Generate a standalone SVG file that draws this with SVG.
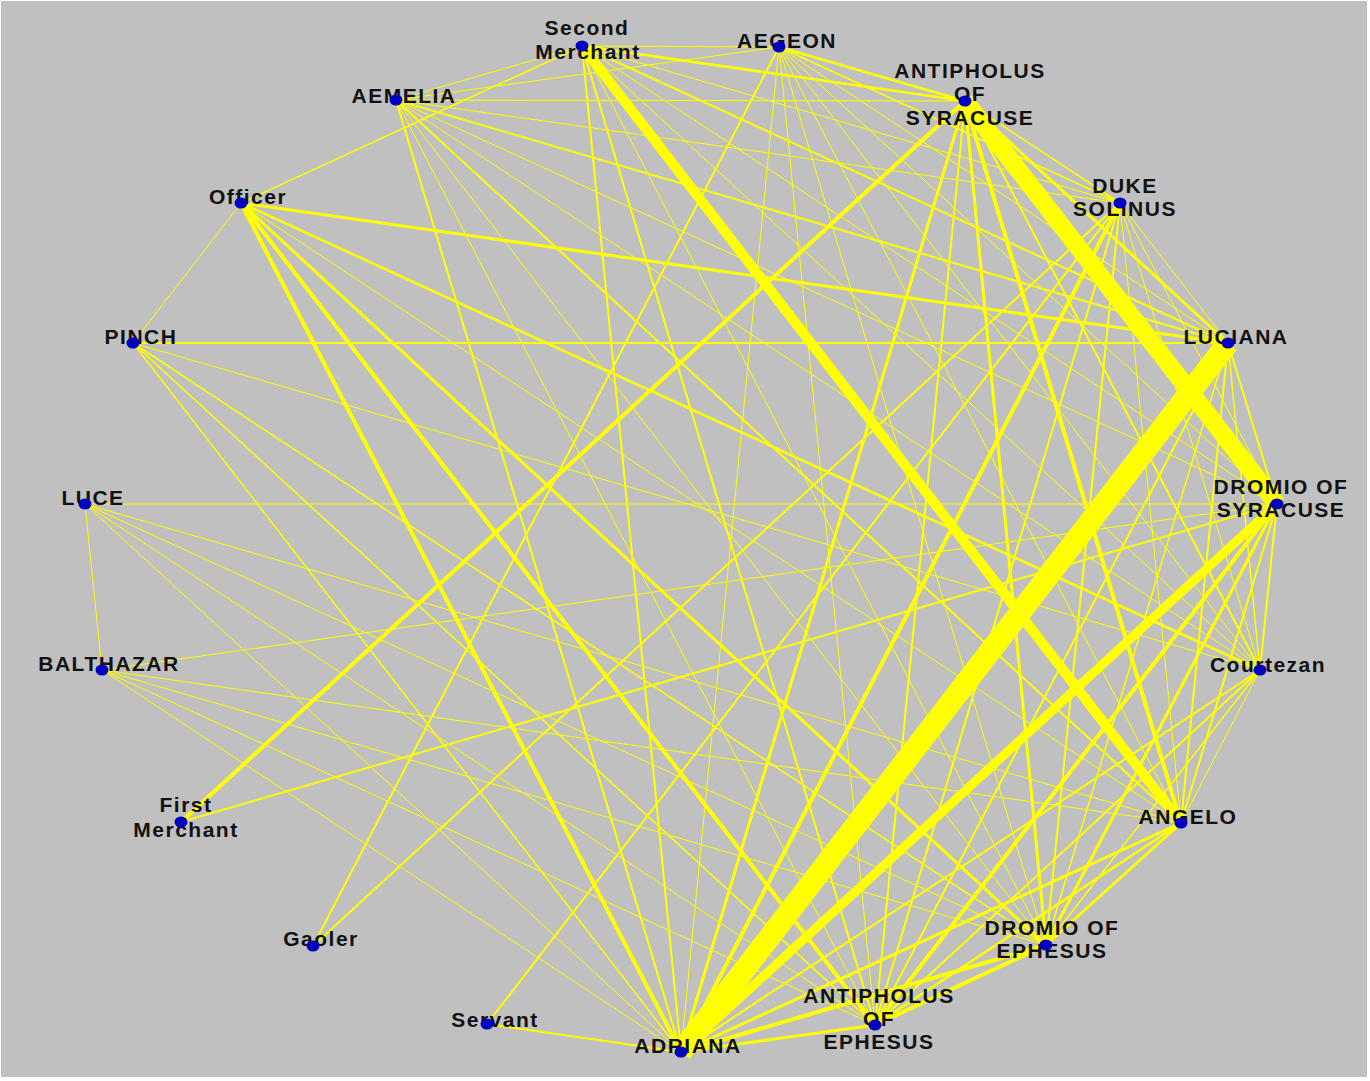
<svg xmlns="http://www.w3.org/2000/svg" width="1370" height="1081" viewBox="0 0 1370 1081">
<style>
.e{stroke:#ffff00;stroke-linecap:butt;fill:none}
.w1{stroke-width:1}
.w15{stroke-width:1.5}
.w2{stroke-width:2}
.w25{stroke-width:2.5}
.w3{stroke-width:3}
.w4{stroke-width:4}
.w5{stroke-width:5}
.w9{stroke-width:9}
.w10{stroke-width:10}
.w18{stroke-width:18}
.w22{stroke-width:22}
text{font-family:"Liberation Sans",Arial,sans-serif;font-weight:bold;font-size:21px;fill:#111;text-anchor:middle;letter-spacing:1.5px}
.dot{fill:#0000c0}
</style>
<rect x="0" y="0" width="1370" height="1081" fill="#ffffff"/>
<rect x="1" y="1" width="1366" height="1076" fill="#c0c0c0"/>
<g id="connectors" class="e">
<!-- Second Merchant (582,46) -->
<line class="w1" x1="582" y1="46" x2="779" y2="47"/>
<line class="w1" x1="582" y1="46" x2="396" y2="100"/>
<line class="w15" x1="582" y1="46" x2="241" y2="203"/>
<line class="w25" x1="582" y1="46" x2="965" y2="101"/>
<line class="w2" x1="582" y1="46" x2="1228" y2="343"/>
<line class="w10" x1="582" y1="46" x2="1181" y2="823"/>
<line class="w2" x1="582" y1="46" x2="681" y2="1052"/>
<line class="w2" x1="582" y1="46" x2="875" y2="1025"/>
<line class="w1" x1="582" y1="46" x2="1046" y2="945"/>
<line class="w1" x1="582" y1="46" x2="1260" y2="670"/>
<line class="w1" x1="582" y1="46" x2="1277" y2="504"/>
<line class="w1" x1="582" y1="46" x2="1120" y2="203"/>
<!-- AEGEON (779,47) -->
<line class="w1" x1="779" y1="47" x2="396" y2="100"/>
<line class="w25" x1="779" y1="47" x2="965" y2="101"/>
<line class="w2" x1="779" y1="47" x2="313" y2="946"/>
<line class="w15" x1="779" y1="47" x2="1120" y2="203"/>
<line class="w1" x1="779" y1="47" x2="1228" y2="343"/>
<line class="w1" x1="779" y1="47" x2="1277" y2="504"/>
<line class="w1" x1="779" y1="47" x2="1260" y2="670"/>
<line class="w1" x1="779" y1="47" x2="1181" y2="823"/>
<line class="w1" x1="779" y1="47" x2="1046" y2="945"/>
<line class="w1" x1="779" y1="47" x2="875" y2="1025"/>
<line class="w1" x1="779" y1="47" x2="681" y2="1052"/>
<!-- AEMELIA (396,100) -->
<line class="w1" x1="396" y1="100" x2="965" y2="101"/>
<line class="w1" x1="396" y1="100" x2="1120" y2="203"/>
<line class="w2" x1="396" y1="100" x2="1228" y2="343"/>
<line class="w1" x1="396" y1="100" x2="1277" y2="504"/>
<line class="w1" x1="396" y1="100" x2="1260" y2="670"/>
<line class="w2" x1="396" y1="100" x2="1181" y2="823"/>
<line class="w1" x1="396" y1="100" x2="1046" y2="945"/>
<line class="w1" x1="396" y1="100" x2="875" y2="1025"/>
<line class="w2" x1="396" y1="100" x2="681" y2="1052"/>
<!-- Officer (241,203) -->
<line class="w1" x1="241" y1="203" x2="133" y2="343"/>
<line class="w3" x1="241" y1="203" x2="1228" y2="343"/>
<line class="w25" x1="241" y1="203" x2="1260" y2="670"/>
<line class="w1" x1="241" y1="203" x2="1181" y2="823"/>
<line class="w3" x1="241" y1="203" x2="1046" y2="945"/>
<line class="w4" x1="241" y1="203" x2="875" y2="1025"/>
<line class="w4" x1="241" y1="203" x2="681" y2="1052"/>
<!-- PINCH (133,343) -->
<line class="w2" x1="133" y1="343" x2="1228" y2="343"/>
<line class="w1" x1="133" y1="343" x2="1260" y2="670"/>
<line class="w15" x1="133" y1="343" x2="1046" y2="945"/>
<line class="w15" x1="133" y1="343" x2="875" y2="1025"/>
<line class="w15" x1="133" y1="343" x2="681" y2="1052"/>
<!-- LUCE (85,504) -->
<line class="w1" x1="85" y1="504" x2="1277" y2="504"/>
<line class="w1" x1="85" y1="504" x2="102" y2="670"/>
<line class="w1" x1="85" y1="504" x2="1181" y2="823"/>
<line class="w1" x1="85" y1="504" x2="1046" y2="945"/>
<line class="w1" x1="85" y1="504" x2="875" y2="1025"/>
<line class="w1" x1="85" y1="504" x2="681" y2="1052"/>
<!-- BALTHAZAR (102,670) -->
<line class="w1" x1="102" y1="670" x2="1277" y2="504"/>
<line class="w1" x1="102" y1="670" x2="1181" y2="823"/>
<line class="w1" x1="102" y1="670" x2="1046" y2="945"/>
<line class="w1" x1="102" y1="670" x2="875" y2="1025"/>
<line class="w1" x1="102" y1="670" x2="681" y2="1052"/>
<!-- First Merchant, Gaoler, Servant -->
<line class="w4" x1="181" y1="822" x2="965" y2="101"/>
<line class="w2" x1="181" y1="822" x2="1277" y2="504"/>
<line class="w2" x1="313" y1="946" x2="1120" y2="203"/>
<line class="w2" x1="487" y1="1024" x2="1120" y2="203"/>
<line class="w2" x1="487" y1="1024" x2="681" y2="1052"/>
<!-- ANTIPHOLUS OF SYRACUSE (965,101) -->
<line class="w3" x1="965" y1="101" x2="1228" y2="343"/>
<line class="w15" x1="965" y1="101" x2="1120" y2="203"/>
<line class="w2" x1="965" y1="101" x2="1260" y2="670"/>
<line class="w4" x1="965" y1="101" x2="1181" y2="823"/>
<line class="w3" x1="965" y1="101" x2="1046" y2="945"/>
<line class="w2" x1="965" y1="101" x2="875" y2="1025"/>
<line class="w3" x1="965" y1="101" x2="681" y2="1052"/>
<!-- DUKE SOLINUS (1120,203) -->
<line class="w1" x1="1120" y1="203" x2="1228" y2="343"/>
<line class="w1" x1="1120" y1="203" x2="1277" y2="504"/>
<line class="w1" x1="1120" y1="203" x2="1260" y2="670"/>
<line class="w1" x1="1120" y1="203" x2="1181" y2="823"/>
<line class="w2" x1="1120" y1="203" x2="1046" y2="945"/>
<line class="w2" x1="1120" y1="203" x2="875" y2="1025"/>
<line class="w4" x1="1120" y1="203" x2="681" y2="1052"/>
<!-- LUCIANA (1228,343) -->
<line class="w2" x1="1228" y1="343" x2="1277" y2="504"/>
<line class="w15" x1="1228" y1="343" x2="1260" y2="670"/>
<line class="w2" x1="1228" y1="343" x2="1181" y2="823"/>
<line class="w15" x1="1228" y1="343" x2="1046" y2="945"/>
<line class="w2" x1="1228" y1="343" x2="875" y2="1025"/>
<!-- DROMIO OF SYRACUSE (1277,504) -->
<line class="w2" x1="1277" y1="504" x2="1260" y2="670"/>
<line class="w2" x1="1277" y1="504" x2="1181" y2="823"/>
<line class="w3" x1="1277" y1="504" x2="1046" y2="945"/>
<line class="w4" x1="1277" y1="504" x2="875" y2="1025"/>
<!-- Courtezan (1260,670) -->
<line class="w1" x1="1260" y1="670" x2="1181" y2="823"/>
<line class="w15" x1="1260" y1="670" x2="1046" y2="945"/>
<line class="w2" x1="1260" y1="670" x2="875" y2="1025"/>
<line class="w2" x1="1260" y1="670" x2="681" y2="1052"/>
<!-- ANGELO (1181,823) -->
<line class="w3" x1="1181" y1="823" x2="1046" y2="945"/>
<line class="w25" x1="1181" y1="823" x2="875" y2="1025"/>
<line class="w3" x1="1181" y1="823" x2="681" y2="1052"/>
<!-- lower arc -->
<line class="w4" x1="1046" y1="945" x2="875" y2="1025"/>
<line class="w4" x1="1046" y1="945" x2="681" y2="1052"/>
<line class="w3" x1="875" y1="1025" x2="681" y2="1052"/>
<!-- heaviest -->
<line class="w9" x1="1277" y1="504" x2="681" y2="1052"/>
<line class="w18" x1="965" y1="101" x2="1277" y2="504"/>
<line class="w22" x1="1228" y1="343" x2="681" y2="1052"/>
</g>
<g id="node-second-merchant"><text x="587" y="35">Second</text><text x="588" y="59">Merchant</text><ellipse class="dot" cx="582" cy="46" rx="6.5" ry="5.5"/></g>
<g id="node-aegeon"><text x="787" y="48">AEGEON</text><ellipse class="dot" cx="779" cy="47" rx="6.5" ry="5.5"/></g>
<g id="node-aemelia"><text x="404" y="103">AEMELIA</text><ellipse class="dot" cx="396" cy="100" rx="6.5" ry="5.5"/></g>
<g id="node-antipholus-of-syracuse"><text x="970" y="78">ANTIPHOLUS</text><text x="970" y="101">OF</text><text x="970" y="125">SYRACUSE</text><ellipse class="dot" cx="965" cy="101" rx="6.5" ry="5.5"/></g>
<g id="node-duke-solinus"><text x="1125" y="193">DUKE</text><text x="1125" y="216">SOLINUS</text><ellipse class="dot" cx="1120" cy="203" rx="6.5" ry="5.5"/></g>
<g id="node-officer"><text x="248" y="204">Officer</text><ellipse class="dot" cx="241" cy="203" rx="6.5" ry="5.5"/></g>
<g id="node-pinch"><text x="141" y="344">PINCH</text><ellipse class="dot" cx="133" cy="343" rx="6.5" ry="5.5"/></g>
<g id="node-luciana"><text x="1236" y="344">LUCIANA</text><ellipse class="dot" cx="1228" cy="343" rx="6.5" ry="5.5"/></g>
<g id="node-luce"><text x="93" y="505">LUCE</text><ellipse class="dot" cx="85" cy="504" rx="6.5" ry="5.5"/></g>
<g id="node-dromio-of-syracuse"><text x="1281" y="494">DROMIO OF</text><text x="1281" y="517">SYRACUSE</text><ellipse class="dot" cx="1277" cy="504" rx="6.5" ry="5.5"/></g>
<g id="node-balthazar"><text x="109" y="671">BALTHAZAR</text><ellipse class="dot" cx="102" cy="670" rx="6.5" ry="5.5"/></g>
<g id="node-courtezan"><text x="1268" y="672">Courtezan</text><ellipse class="dot" cx="1260" cy="670" rx="6.5" ry="5.5"/></g>
<g id="node-first-merchant"><text x="186" y="812">First</text><text x="186" y="837">Merchant</text><ellipse class="dot" cx="181" cy="822" rx="6.5" ry="5.5"/></g>
<g id="node-angelo"><text x="1188" y="824">ANGELO</text><ellipse class="dot" cx="1181" cy="823" rx="6.5" ry="5.5"/></g>
<g id="node-gaoler"><text x="321" y="946">Gaoler</text><ellipse class="dot" cx="313" cy="946" rx="6.5" ry="5.5"/></g>
<g id="node-dromio-of-ephesus"><text x="1052" y="935">DROMIO OF</text><text x="1052" y="958">EPHESUS</text><ellipse class="dot" cx="1046" cy="945" rx="6.5" ry="5.5"/></g>
<g id="node-servant"><text x="495" y="1027">Servant</text><ellipse class="dot" cx="487" cy="1024" rx="6.5" ry="5.5"/></g>
<g id="node-antipholus-of-ephesus"><text x="879" y="1003">ANTIPHOLUS</text><text x="879" y="1026">OF</text><text x="879" y="1049">EPHESUS</text><ellipse class="dot" cx="875" cy="1025" rx="6.5" ry="5.5"/></g>
<g id="node-adriana"><text x="688" y="1053">ADRIANA</text><ellipse class="dot" cx="681" cy="1052" rx="6.5" ry="5.5"/></g>
</svg>
